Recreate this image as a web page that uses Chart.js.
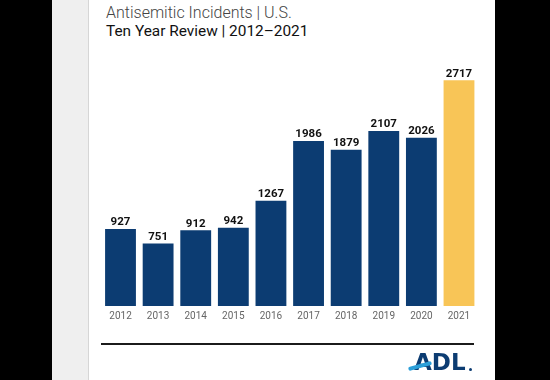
<!DOCTYPE html>
<html><head><meta charset="utf-8">
<script src="https://cdn.jsdelivr.net/npm/chart.js@4"></script>
<style>
html,body{margin:0;padding:0;background:#000;width:550px;height:380px;overflow:hidden;font-family:Roboto,sans-serif;}
#panel{position:absolute;left:52px;top:0;width:443px;height:380px;background:#fff;}
#strip{position:absolute;left:52px;top:0;width:36px;height:380px;background:#efefef;border-right:1px solid #d6d6d6;}
#t1{position:absolute;left:106px;top:3px;font:300 16px Roboto;color:#444;white-space:nowrap;}
#t2{position:absolute;left:106px;top:22px;font:400 15.4px Roboto;color:#111;white-space:nowrap;}
#rule{position:absolute;left:101px;top:343px;width:373px;height:2px;background:#1b1b1b;}
#logo{position:absolute;left:414px;top:349px;font:bold 23px "DejaVu Sans";color:#0c3c72;letter-spacing:0px;line-height:normal;}
#swoosh{position:absolute;left:408px;top:364px;width:24px;height:4px;background:#2b9fd9;transform:rotate(-15deg);border-radius:2px;}
#dot{position:absolute;left:469px;top:368px;width:3px;height:3px;background:#0c3c72;border-radius:50%;}
canvas{position:absolute;left:0;top:0;}
</style></head>
<body>
<div id="panel"></div>
<div id="strip"></div>
<div id="t1">Antisemitic Incidents | U.S.</div>
<div id="t2">Ten Year Review | 2012–2021</div>
<canvas id="c" width="550" height="380"></canvas>
<div id="rule"></div>
<div id="logo">ADL</div>
<div id="swoosh"></div>
<div id="dot"></div>
<script>
const years = ["2012","2013","2014","2015","2016","2017","2018","2019","2020","2021"];
const incidents = [927,751,912,942,1267,1986,1879,2107,2026,2717];
const barColors = ["#0c3c72","#0c3c72","#0c3c72","#0c3c72","#0c3c72","#0c3c72","#0c3c72","#0c3c72","#0c3c72","#f8c557"];

const valueLabels = {
  id:'valueLabels',
  afterDatasetsDraw(chart){
    const ctx = chart.ctx;
    const meta = chart.getDatasetMeta(0);
    ctx.save();
    ctx.font = 'bold 11.5px Roboto';
    ctx.fillStyle = '#111';
    ctx.textAlign = 'center';
    ctx.textBaseline = 'alphabetic';
    meta.data.forEach((bar,i)=>{
      ctx.fillText(String(incidents[i]), bar.x, bar.y - 3.5);
    });
    ctx.restore();
  }
};

new Chart(document.getElementById('c'),{
  type:'bar',
  data:{labels:years,datasets:[{data:incidents,backgroundColor:barColors,borderWidth:0,categoryPercentage:1,barPercentage:0.82}]},
  options:{
    responsive:false,animation:false,
    layout:{padding:{left:101.7,right:72.2,top:56.7,bottom:54}},
    plugins:{legend:{display:false},tooltip:{enabled:false}},
    scales:{
      y:{display:false,min:0,max:3000},
      x:{grid:{display:false,drawTicks:false},border:{display:false},
         ticks:{color:'#666',font:{family:'Roboto',size:10},padding:4}}
    }
  },
  plugins:[valueLabels]
});
</script>
</body></html>
